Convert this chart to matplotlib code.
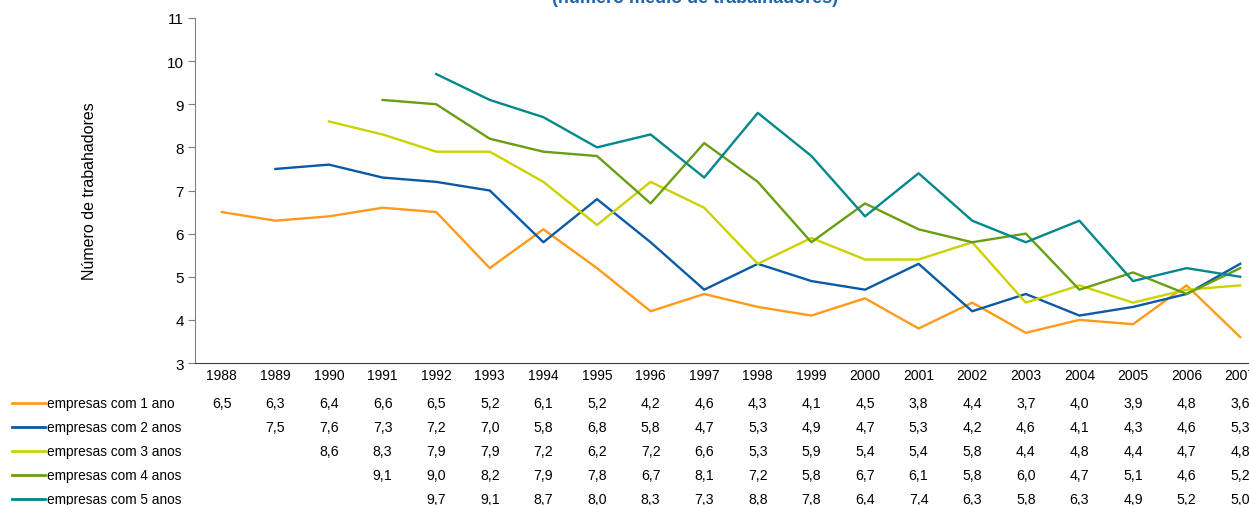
import matplotlib.pyplot as plt
import matplotlib.transforms as mtrans
import numpy as np

plt.rcParams['font.family'] = ['Liberation Sans', 'DejaVu Sans']

years = list(range(1988, 2008))

um_ano = [6.5, 6.3, 6.4, 6.6, 6.5, 5.2, 6.1, 5.2, 4.2, 4.6, 4.3, 4.1, 4.5, 3.8, 4.4, 3.7, 4.0, 3.9, 4.8, 3.6]
dois_anos = [None, 7.5, 7.6, 7.3, 7.2, 7.0, 5.8, 6.8, 5.8, 4.7, 5.3, 4.9, 4.7, 5.3, 4.2, 4.6, 4.1, 4.3, 4.6, 5.3]
tres_anos = [None, None, 8.6, 8.3, 7.9, 7.9, 7.2, 6.2, 7.2, 6.6, 5.3, 5.9, 5.4, 5.4, 5.8, 4.4, 4.8, 4.4, 4.7, 4.8]
quatro_anos = [None, None, None, 9.1, 9.0, 8.2, 7.9, 7.8, 6.7, 8.1, 7.2, 5.8, 6.7, 6.1, 5.8, 6.0, 4.7, 5.1, 4.6, 5.2]
cinco_anos = [None, None, None, None, 9.7, 9.1, 8.7, 8.0, 8.3, 7.3, 8.8, 7.8, 6.4, 7.4, 6.3, 5.8, 6.3, 4.9, 5.2, 5.0]

labels = ['empresas com 1 ano', 'empresas com 2 anos', 'empresas com 3 anos',
          'empresas com 4 anos', 'empresas com 5 anos']
series = [um_ano, dois_anos, tres_anos, quatro_anos, cinco_anos]
colors = ['#FF9A1A', '#0A5AA5', '#CCD200', '#6A9E12', '#00888A']

W, H = 1249, 506
fig = plt.figure(figsize=(W / 100, H / 100), dpi=100)
# axes runs a bit past the right edge, like the original crop
ax = fig.add_axes([195 / W, (H - 364) / H, 1072 / W, 345 / H])

x = np.arange(len(years))
for vals, c, lab in zip(series, colors, labels):
    v = np.array([np.nan if a is None else a for a in vals])
    ax.plot(x, v, color=c, lw=1.7, label=lab)

ax.set_xlim(-0.5, len(years) - 0.5)
ax.set_ylim(3, 11)
ax.set_yticks(range(3, 12))
ax.tick_params(axis='y', labelsize=11, length=5, width=0.8, color='#808080', pad=3)
ax.set_xticks([])
ax.set_xticks(np.arange(len(years) + 1) - 0.5, minor=True)
ax.tick_params(axis='x', which='minor', direction='inout', length=3, width=1.2, color='white')
for s in ['top', 'right']:
    ax.spines[s].set_visible(False)
ax.spines['left'].set_color('#808080')
ax.spines['bottom'].set_color('#404040')
ax.set_ylabel('Número de trabahadores', fontsize=11.5, labelpad=50)

fig.text(695 / W, 1 - 3 / H, '(número médio de trabalhadores)', ha='center', va='baseline',
         fontsize=13, fontweight='bold', color='#1B64A8')


def fy(py):
    return (H - py) / H


# data table under the axis
btr = mtrans.blended_transform_factory(ax.transData, fig.transFigure)
for i, yr in enumerate(years):
    ax.text(i, fy(376), str(yr), transform=btr, ha='center', va='center', fontsize=10, clip_on=False)

row_y = [404, 428, 452, 476, 500]
for vals, c, lab, py in zip(series, colors, labels, row_y):
    fig.add_artist(plt.Line2D([12 / W, 45 / W], [fy(py), fy(py)], color=c, lw=2))
    fig.text(47 / W, fy(py), lab, ha='left', va='center', fontsize=9.8)
    for i, v in enumerate(vals):
        if v is None:
            continue
        ax.text(i, fy(py), f'{v:.1f}'.replace('.', ','), transform=btr,
                ha='center', va='center', fontsize=10.2, clip_on=False)

fig.savefig('out.png', dpi=100)
